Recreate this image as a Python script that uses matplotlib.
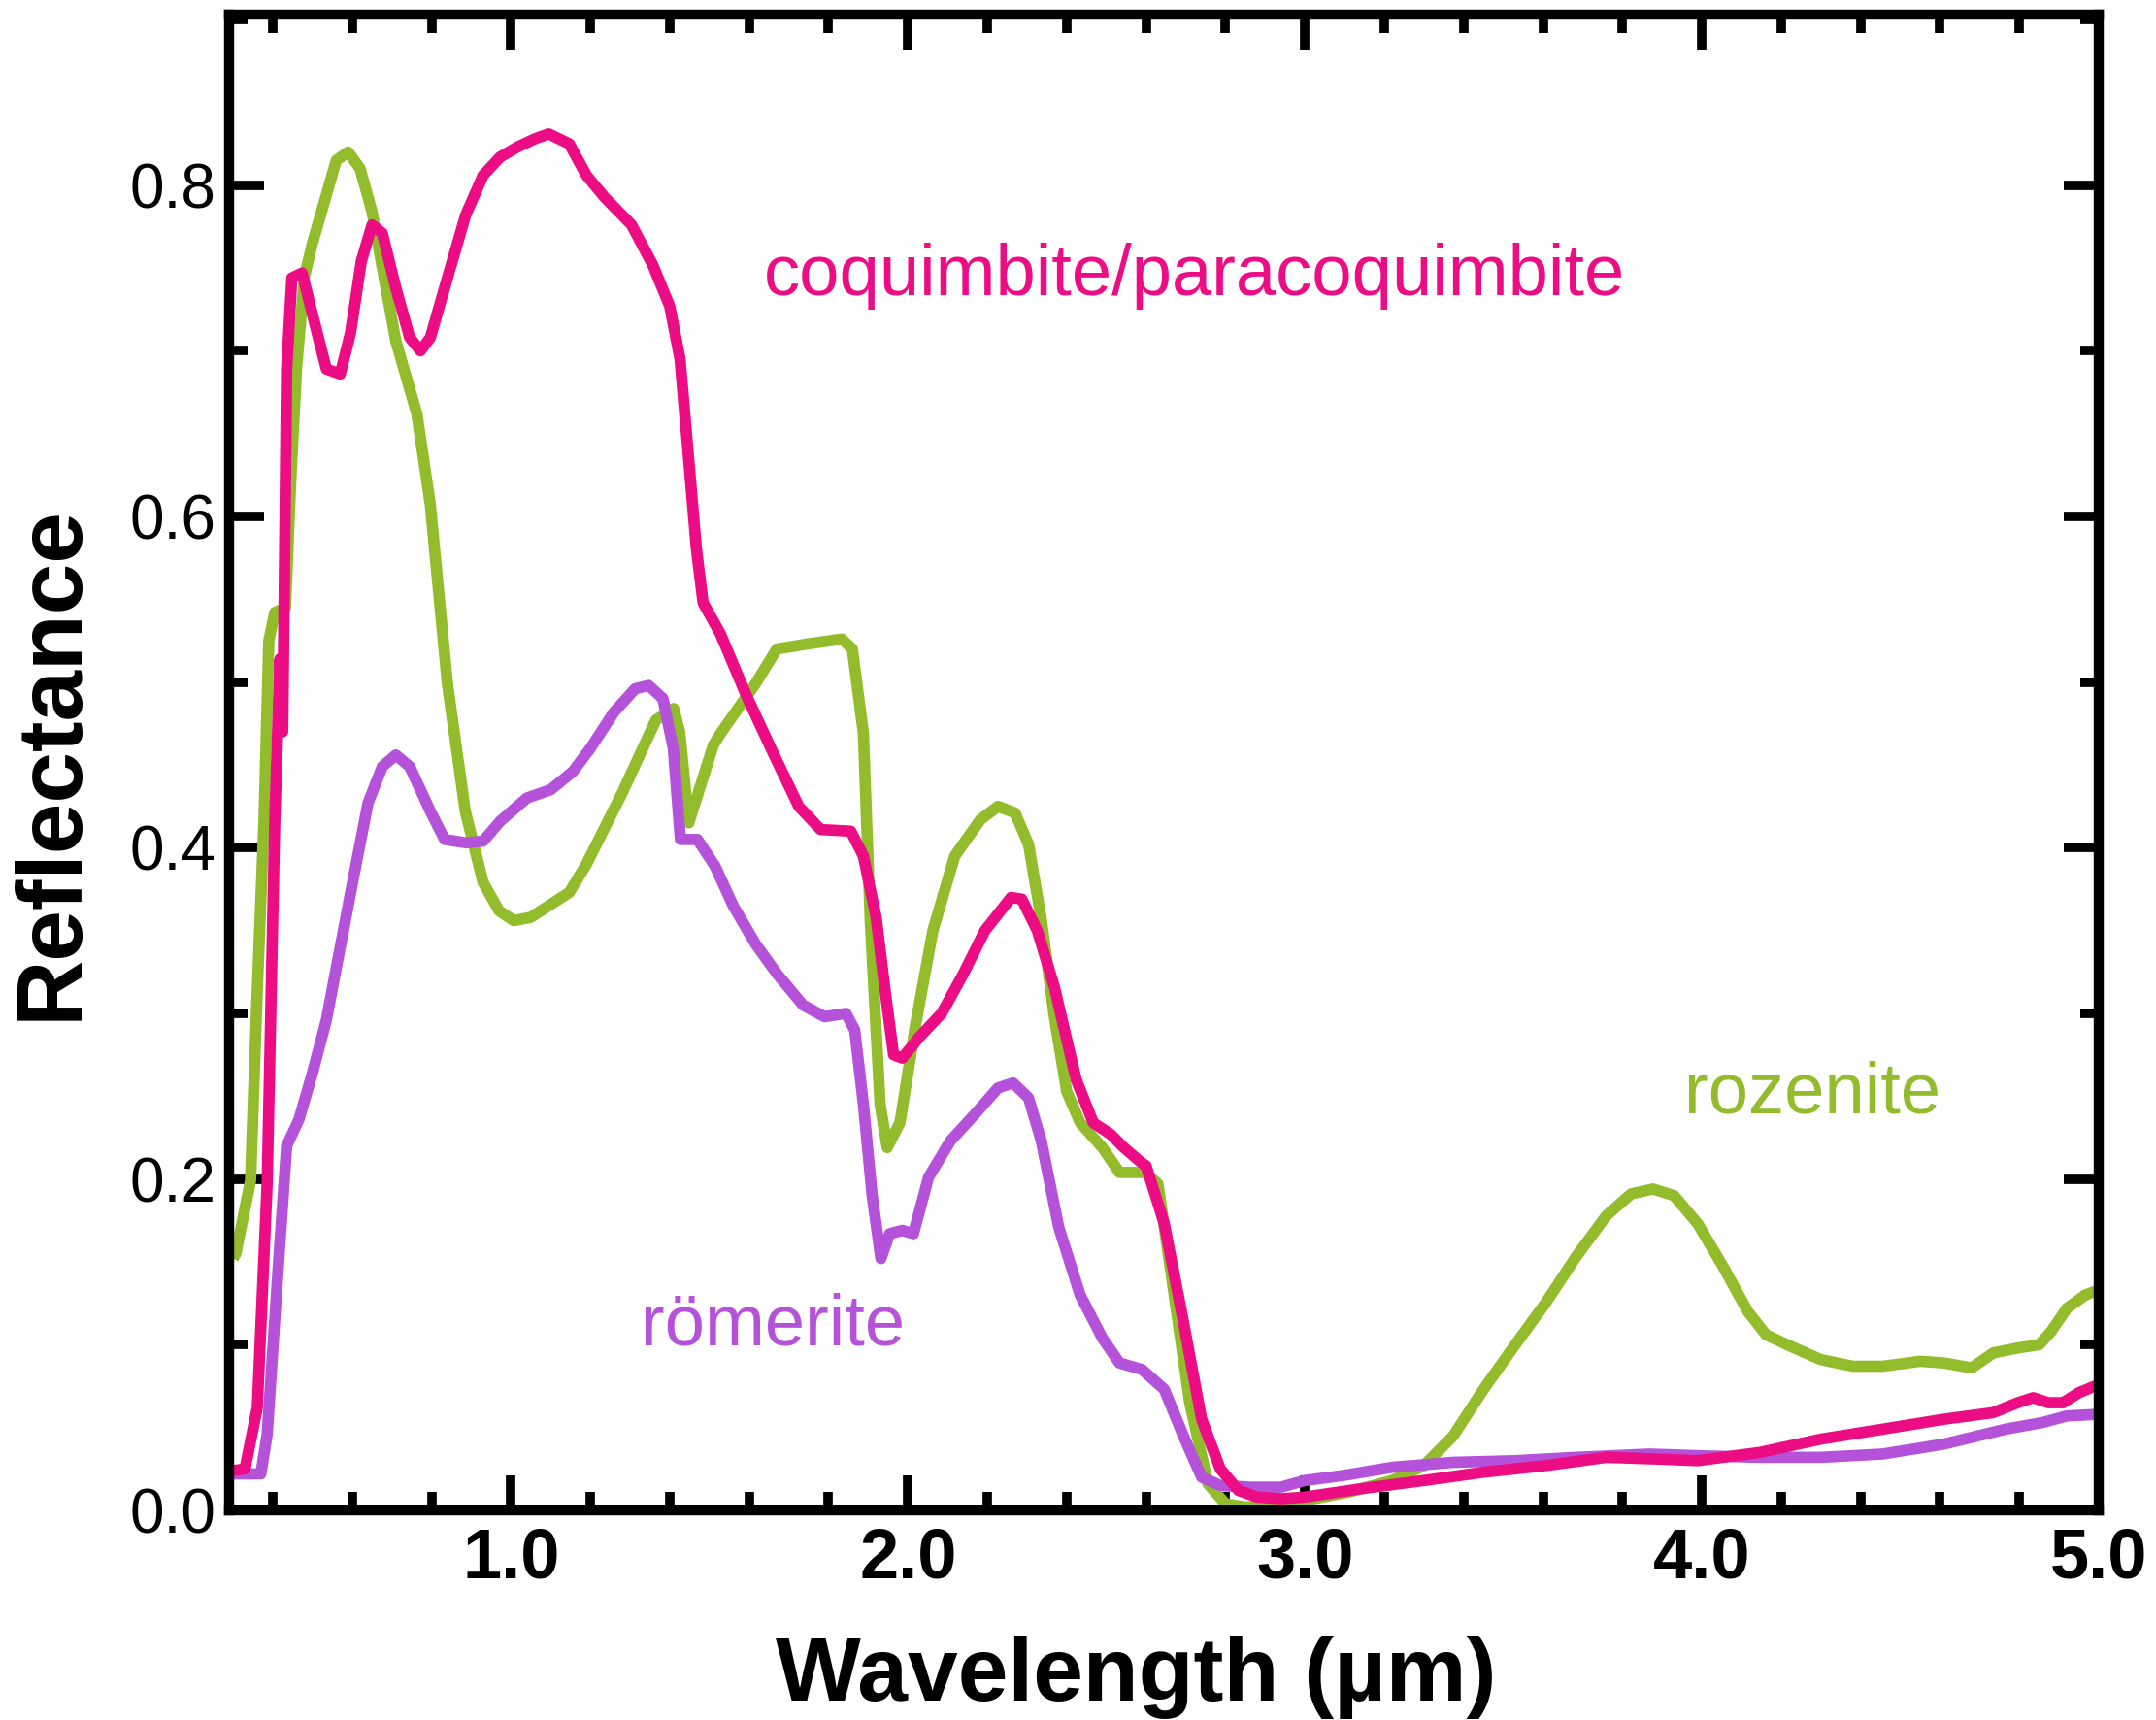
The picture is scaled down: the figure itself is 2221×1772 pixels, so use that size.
import matplotlib
matplotlib.use("Agg")
import matplotlib.pyplot as plt
from matplotlib.ticker import MultipleLocator, FixedLocator

plt.rcParams['font.family'] = ['Liberation Sans', 'DejaVu Sans']

# Reflectance spectra (wavelength in micrometres)
rozenite_wl = [0.30, 0.307, 0.344, 0.36, 0.378, 0.39, 0.405, 0.432, 0.445, 0.46,
               0.48, 0.50, 0.53, 0.56, 0.59, 0.62, 0.65, 0.71, 0.763, 0.797,
               0.84, 0.885, 0.93, 0.97, 1.007, 1.05, 1.147, 1.19, 1.28, 1.365,
               1.41, 1.425, 1.448, 1.51, 1.528, 1.616, 1.67, 1.746, 1.834, 1.86,
               1.888, 1.905, 1.93, 1.948, 1.98, 2.02, 2.063, 2.118, 2.183, 2.227,
               2.27, 2.304, 2.336, 2.369, 2.40, 2.434, 2.49, 2.533, 2.598, 2.63,
               2.663, 2.71, 2.756, 2.80, 2.85, 2.91, 3.0, 3.11, 3.22, 3.30,
               3.374, 3.45, 3.53, 3.606, 3.683, 3.76, 3.822, 3.877, 3.93, 3.99,
               4.054, 4.116, 4.162, 4.224, 4.30, 4.38, 4.456, 4.55, 4.61, 4.68,
               4.734, 4.796, 4.85, 4.88, 4.92, 4.966, 5.0]
rozenite_r = [0.152, 0.155, 0.199, 0.308, 0.417, 0.525, 0.542, 0.545, 0.62, 0.69,
              0.745, 0.765, 0.79, 0.815, 0.82, 0.81, 0.784, 0.706, 0.662, 0.607,
              0.499, 0.422, 0.379, 0.362, 0.356, 0.358, 0.373, 0.39, 0.433, 0.477,
              0.484, 0.470, 0.415, 0.462, 0.469, 0.499, 0.52, 0.523, 0.526, 0.52,
              0.469, 0.357, 0.245, 0.219, 0.234, 0.294, 0.35, 0.395, 0.417, 0.425,
              0.421, 0.402, 0.357, 0.298, 0.253, 0.234, 0.219, 0.204, 0.204, 0.197,
              0.143, 0.065, 0.016, 0.004, 0.002, 0.003, 0.006, 0.011, 0.018, 0.027,
              0.045, 0.073, 0.10, 0.125, 0.153, 0.178, 0.191, 0.194, 0.19, 0.173,
              0.147, 0.12, 0.106, 0.099, 0.091, 0.087, 0.087, 0.09, 0.089, 0.086,
              0.095, 0.098, 0.10, 0.108, 0.122, 0.13, 0.133]

romerite_wl = [0.30, 0.37, 0.386, 0.413, 0.435, 0.466, 0.50, 0.535, 0.57, 0.605,
               0.64, 0.676, 0.71, 0.745, 0.797, 0.833, 0.886, 0.93, 0.973, 1.04,
               1.10, 1.156, 1.20, 1.26, 1.313, 1.347, 1.383, 1.409, 1.427, 1.47,
               1.514, 1.56, 1.616, 1.67, 1.736, 1.79, 1.844, 1.866, 1.888, 1.91,
               1.932, 1.954, 1.986, 2.014, 2.052, 2.107, 2.172, 2.227, 2.265, 2.304,
               2.336, 2.38, 2.434, 2.49, 2.533, 2.59, 2.646, 2.694, 2.74, 2.787,
               2.864, 2.94, 3.0, 3.096, 3.22, 3.374, 3.53, 3.683, 3.869, 3.99,
               4.147, 4.30, 4.456, 4.61, 4.765, 4.858, 4.92, 5.0]
romerite_r = [0.022, 0.022, 0.046, 0.144, 0.22, 0.236, 0.264, 0.296, 0.34, 0.384,
              0.427, 0.449, 0.456, 0.449, 0.422, 0.405, 0.403, 0.404, 0.416, 0.43,
              0.435, 0.446, 0.46, 0.482, 0.496, 0.498, 0.49, 0.46, 0.405, 0.405,
              0.389, 0.365, 0.342, 0.324, 0.305, 0.298, 0.30, 0.29, 0.245, 0.19,
              0.152, 0.167, 0.169, 0.167, 0.201, 0.223, 0.24, 0.255, 0.258, 0.249,
              0.223, 0.171, 0.13, 0.104, 0.089, 0.085, 0.073, 0.045, 0.02, 0.015,
              0.014, 0.014, 0.018, 0.021, 0.026, 0.029, 0.030, 0.032, 0.034, 0.033,
              0.032, 0.032, 0.034, 0.040, 0.049, 0.053, 0.057, 0.058]

coquimbite_wl = [0.30, 0.33, 0.361, 0.386, 0.405, 0.418, 0.425, 0.435, 0.448, 0.474,
                 0.50, 0.535, 0.57, 0.596, 0.623, 0.65, 0.676, 0.71, 0.745, 0.772,
                 0.797, 0.84, 0.886, 0.93, 0.973, 1.016, 1.06, 1.095, 1.147, 1.19,
                 1.235, 1.304, 1.357, 1.40, 1.426, 1.448, 1.467, 1.484, 1.528, 1.593,
                 1.659, 1.725, 1.78, 1.856, 1.888, 1.92, 1.943, 1.964, 1.986, 2.03,
                 2.085, 2.14, 2.194, 2.26, 2.287, 2.326, 2.369, 2.424, 2.467, 2.511,
                 2.544, 2.588, 2.60, 2.646, 2.694, 2.74, 2.787, 2.833, 2.88, 2.94,
                 3.0, 3.14, 3.30, 3.45, 3.606, 3.76, 3.884, 3.99, 4.147, 4.30,
                 4.456, 4.61, 4.734, 4.796, 4.835, 4.873, 4.91, 4.95, 5.0]
coquimbite_r = [0.024, 0.025, 0.062, 0.198, 0.416, 0.514, 0.47, 0.689, 0.744, 0.747,
                0.722, 0.689, 0.686, 0.711, 0.754, 0.776, 0.771, 0.738, 0.708, 0.70,
                0.708, 0.744, 0.782, 0.806, 0.817, 0.823, 0.828, 0.831, 0.825, 0.806,
                0.793, 0.776, 0.752, 0.727, 0.695, 0.634, 0.581, 0.548, 0.529, 0.492,
                0.458, 0.425, 0.411, 0.41, 0.395, 0.358, 0.313, 0.275, 0.273, 0.286,
                0.30, 0.324, 0.35, 0.37, 0.369, 0.35, 0.316, 0.26, 0.234, 0.227,
                0.219, 0.21, 0.208, 0.173, 0.114, 0.055, 0.025, 0.012, 0.008, 0.007,
                0.008, 0.013, 0.018, 0.023, 0.027, 0.032, 0.031, 0.030, 0.035, 0.043,
                0.049, 0.055, 0.059, 0.065, 0.068, 0.065, 0.065, 0.071, 0.076]

x_major = [1.0, 2.0, 3.0, 4.0, 5.0]
x_labels = ["1.0", "2.0", "3.0", "4.0", "5.0"]
y_major = [0.0, 0.2, 0.4, 0.6, 0.8]
y_labels = ["0.0", "0.2", "0.4", "0.6", "0.8"]

GREEN = '#92BC2B'
PURPLE = '#B552DA'
PINK = '#EC0C84'

fig = plt.figure(figsize=(22.21, 17.72), dpi=100)
ax = fig.add_axes([0.10626, 0.12190, 0.86718, 0.86963])

lw = 8.4
style = dict(lw=lw, solid_joinstyle='round', solid_capstyle='butt')
ax.plot(rozenite_wl, rozenite_r, color=GREEN, **style)
ax.plot(romerite_wl, romerite_r, color=PURPLE, **style)
ax.plot(coquimbite_wl, coquimbite_r, color=PINK, **style)

ax.set_xlim(0.29, 5.0)
ax.set_ylim(0.0, 0.903)

ax.xaxis.set_major_locator(FixedLocator(x_major))
ax.set_xticklabels(x_labels)
ax.xaxis.set_minor_locator(MultipleLocator(0.2))
ax.yaxis.set_major_locator(FixedLocator(y_major))
ax.set_yticklabels(y_labels)
ax.yaxis.set_minor_locator(MultipleLocator(0.1))

for s in ax.spines.values():
    s.set_linewidth(7.5)

ax.tick_params(which='both', direction='in', top=True, right=True, width=7)
ax.tick_params(which='major', length=26)
ax.tick_params(which='minor', length=14)
ax.tick_params(axis='x', which='major', pad=12, labelsize=52)
ax.tick_params(axis='y', which='major', pad=10, labelsize=46)
for t in ax.get_xticklabels():
    t.set_fontweight('bold')

fig.text(0.527, 0.0113, "Wavelength (µm)", ha='center', va='baseline',
         fontsize=67, fontweight='bold')
fig.text(0.0243, 0.5564, "Reflectance", ha='center', va='center', rotation=90,
         fontsize=68, fontweight='bold')

ax.text(1.636, 0.7336, "coquimbite/paracoquimbite", color=PINK, fontsize=53.5,
        ha='left', va='baseline')
ax.text(3.956, 0.240, "rozenite", color=GREEN, fontsize=53.5, ha='left', va='baseline')
ax.text(1.328, 0.0997, "römerite", color=PURPLE, fontsize=53.5, ha='left', va='baseline')

fig.savefig("out.png", dpi=100)
